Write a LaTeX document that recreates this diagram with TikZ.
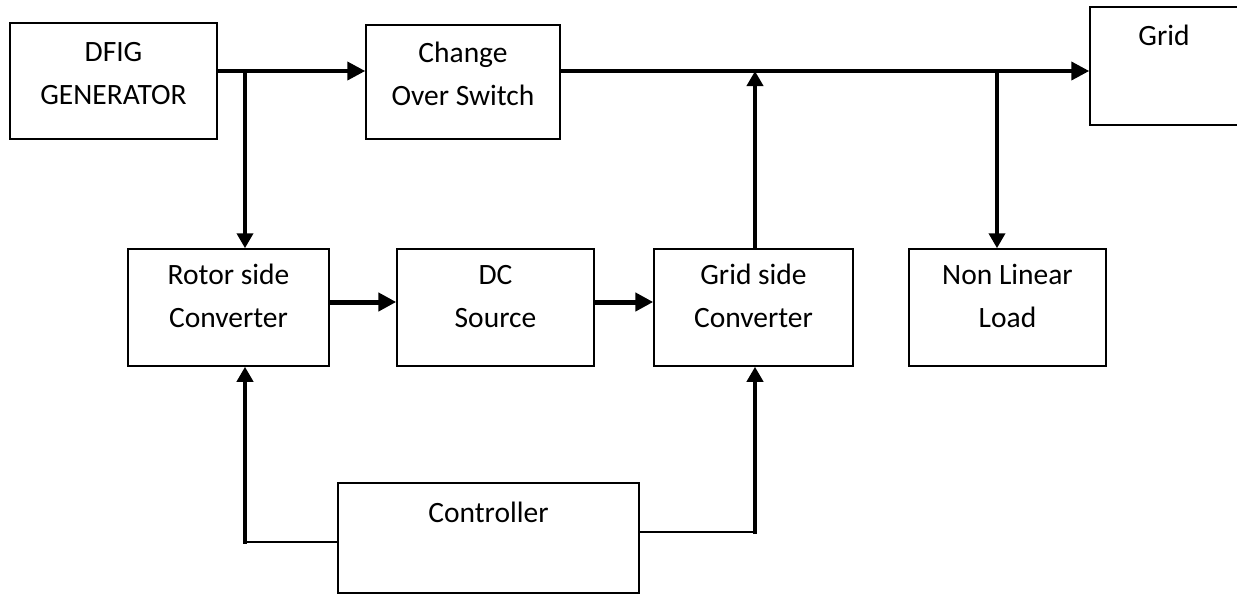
\documentclass[tikz,border=0pt]{standalone}
\usepackage{fontspec}
\setmainfont{Carlito}
\usetikzlibrary{arrows.meta,calc}
\tikzset{
  blk/.style={draw, line width=1.5pt, rectangle, inner sep=0pt},
  txt/.style={align=center, inner sep=0pt, anchor=base, font=\fontsize{29.5}{43}\selectfont},
  thk/.style={line width=4pt, -{Triangle[length=18pt,width=18pt]}},
  thn/.style={line width=1.8pt},
  vup/.style={line width=4pt, line cap=rect, -{Triangle[length=15pt,width=16pt]}}
}
\begin{document}
\begin{tikzpicture}[x=1pt,y=-1pt]
\useasboundingbox (0,0) rectangle (1237,595);
% boxes
\node[blk, minimum width=207pt, minimum height=116pt] (dfig) at (113.5,81) {};
\node[blk, minimum width=194pt, minimum height=114pt] (cos) at (463,82) {};
\node[blk, minimum width=160pt, minimum height=118pt] (grid) at (1170,66) {};
\node[blk, minimum width=201pt, minimum height=117pt] (rotor) at (228.5,307.5) {};
\node[blk, minimum width=197pt, minimum height=117pt] (dc) at (495.5,307.5) {};
\node[blk, minimum width=199pt, minimum height=117pt] (gsc) at (753.5,307.5) {};
\node[blk, minimum width=197pt, minimum height=117pt] (nll) at (1007.5,307.5) {};
\node[blk, minimum width=301pt, minimum height=110pt] (ctrl) at (488.5,538) {};
% texts (base anchor = baseline of the last line)
\node[txt] (dfigt) at ($(dfig.north)+(0,82)$) {DFIG\\GENERATOR};
\node[txt] (cost) at ($(cos.north)+(0,81)$) {Change\\Over Switch};
\node[txt] (gridt) at (1164,45) {Grid};
\node[txt] (rotort) at ($(rotor.north)+(0,79)$) {Rotor side\\Converter};
\node[txt] (dct) at ($(dc.north)+(0,79)$) {DC\\Source};
\node[txt] (gsct) at ($(gsc.north)+(0,79)$) {Grid side\\Converter};
\node[txt] (nllt) at ($(nll.north)+(0,79)$) {Non Linear\\Load};
\node[txt] (ctrlt) at ($(ctrl.north)+(0,40)$) {Controller};
% junction coordinates
\coordinate (j1) at (245,71);
\coordinate (j2) at (755,71);
\coordinate (j3) at (997,71);
\coordinate (h1) at (0,302);
\coordinate (c1) at (245,542);
\coordinate (c2) at (755,532);
% connectors
\draw[thk] (dfig.east |- j1) -- (cos.west |- j1);
\draw[vup] (j1) -- (rotor.north -| j1);
\draw[thk] (cos.east |- j1) -- (grid.west |- j1);
\draw[vup] (gsc.north -| j2) -- (j2);
\draw[vup] (j3) -- (nll.north -| j3);
\draw[thk, line width=5pt] (rotor.east |- h1) -- (dc.west |- h1);
\draw[thk, line width=5pt] (dc.east |- h1) -- (gsc.west |- h1);
\draw[thn] (ctrl.west |- c1) -- (c1);
\draw[vup] (c1) -- (rotor.south -| c1);
\draw[thn] (ctrl.east |- c2) -- (c2);
\draw[vup] (c2) -- (gsc.south -| c2);
\end{tikzpicture}
\end{document}
